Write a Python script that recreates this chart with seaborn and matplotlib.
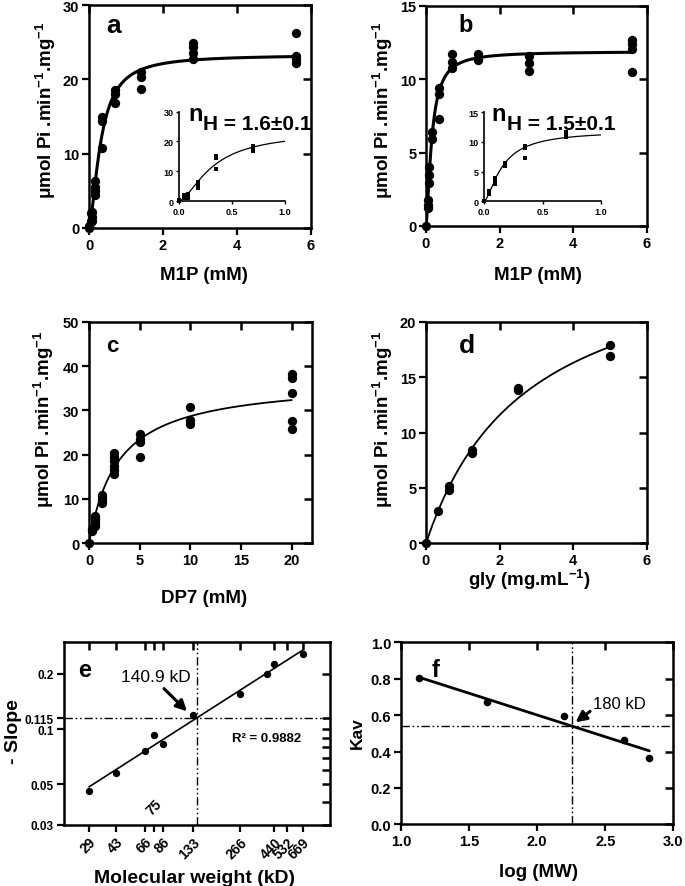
import numpy as np
import pandas as pd
import matplotlib
matplotlib.use("Agg")
import matplotlib.pyplot as plt
from matplotlib.ticker import NullLocator, FixedLocator
import seaborn as sns

# ---------------- data ----------------
# panel a : M1P (mM) vs activity
a_conc = [0, 0, 0.044, 0.044, 0.088, 0.088, 0.088, 0.175, 0.175, 0.175, 0.175,
          0.35, 0.35, 0.35, 0.7, 0.7, 0.7, 1.4, 1.4, 1.4,
          2.8, 2.8, 2.8, 2.8, 5.6, 5.6, 5.6, 5.6]
a_rate = [0, 0.3, 1.0, 2.0, 1.0, 1.5, 2.2, 4.5, 5.0, 5.5, 6.3,
          10.8, 14.4, 15.0, 16.8, 18.0, 18.6, 18.7, 20.3, 21.0,
          22.8, 23.6, 24.3, 24.9, 22.2, 22.7, 23.2, 26.2]
a_vmax, a_k, a_nh = 23.3, 0.32, 1.6

# panel b
b_conc = [0, 0.044, 0.044, 0.044, 0.088, 0.088, 0.088, 0.175, 0.175,
          0.35, 0.35, 0.35, 0.7, 0.7, 0.7, 1.4, 1.4,
          2.8, 2.8, 2.8, 5.6, 5.6, 5.6, 5.6]
b_rate = [0, 1.2, 1.4, 1.8, 2.9, 3.5, 4.0, 5.9, 6.4,
          7.3, 9.0, 9.4, 10.8, 11.2, 11.7, 11.3, 11.7,
          10.6, 11.1, 11.6, 10.5, 12.1, 12.4, 12.7]
b_vmax, b_k, b_nh = 11.9, 0.158, 1.5

# panel c : DP7 (mM)
c_conc = [0, 0.3125, 0.3125, 0.625, 0.625, 0.625, 0.625, 0.625,
          1.25, 1.25, 1.25, 1.25, 2.5, 2.5, 2.5, 2.5, 2.5, 2.5,
          5, 5, 5, 5, 10, 10, 10, 20, 20, 20, 20, 20]
c_rate = [0, 2.8, 3.3, 3.8, 4.5, 5.3, 5.8, 6.2,
          9.0, 9.8, 10.4, 11.0, 15.7, 16.5, 17.5, 18.5, 19.4, 20.3,
          19.4, 22.8, 23.6, 24.6, 26.9, 27.8, 30.7, 25.8, 27.6, 34.0, 37.3, 38.3]
c_vmax, c_k = 37.0, 2.9

# panel d : glycogen (mg/mL)
d_conc = [0, 0.3125, 0.625, 0.625, 1.25, 1.25, 2.5, 2.5, 5, 5]
d_rate = [0, 2.95, 4.85, 5.2, 8.15, 8.4, 13.8, 14.0, 16.9, 17.9]
d_vmax, d_k = 27.5, 2.75

# panel e : molecular weight standards
e_mw = [29, 43, 66, 75, 86, 133, 266, 397, 440, 669]
e_slope = [0.046, 0.058, 0.076, 0.093, 0.083, 0.119, 0.156, 0.200, 0.226, 0.256]
e_tick_vals = [29, 43, 66, 75, 86, 133, 266, 440, 532, 669]
e_tick_labels = ["29", "43", "66", "", "86", "133", "266", "440", "532", "669"]
e_ytick_vals = [0.03, 0.05, 0.1, 0.115, 0.2]
e_ytick_labels = ["0.03", "0.05", "0.1", "0.115", "0.2"]
e_right_ticks = [0.03, 0.04, 0.05, 0.06, 0.07, 0.08, 0.09, 0.1, 0.115, 0.2]
e_mw_found, e_slope_found = 140.9, 0.115

# panel f : Kav vs log(MW)
f_logmw = [1.135, 1.634, 2.197, 2.640, 2.824]
f_kav = [0.802, 0.670, 0.597, 0.465, 0.366]
f_logmw_found, f_kav_found = 2.255, 0.542

# ---------------- style ----------------
sns.set_style("ticks")
plt.rcParams.update({
    "axes.edgecolor": "black", "text.color": "black",
    "xtick.color": "black", "ytick.color": "black",
    "axes.labelcolor": "black", "font.weight": "bold",
    "mathtext.default": "regular",
})
plt.rcParams["font.family"] = ["Liberation Sans", "DejaVu Sans"]

W, H = 685, 887
fig = plt.figure(figsize=(W / 100, H / 100), dpi=100)
IN_LEN = 6.0


def rect(l, t, r, b):
    return [l / W, 1 - b / H, (r - l) / W, (b - t) / H]


def ftext(px, py, s, **kw):
    return fig.text(px / W, 1 - py / H, s, **kw)


def mirror_ticks(ax, top_vals, right_vals):
    """Inward ticks on top/right spines drawn as minor ticks; majors stay outward."""
    ax.xaxis.remove_overlapping_locs = False
    ax.yaxis.remove_overlapping_locs = False
    ax.xaxis.set_minor_locator(FixedLocator(top_vals))
    ax.yaxis.set_minor_locator(FixedLocator(right_vals))
    ax.tick_params(axis="both", which="major", direction="out", length=5, width=1.6,
                   top=False, right=False, bottom=True, left=True)
    ax.tick_params(axis="x", which="minor", direction="in", length=IN_LEN, width=1.8,
                   bottom=False, top=True, labelbottom=False, labeltop=False)
    ax.tick_params(axis="y", which="minor", direction="in", length=IN_LEN, width=1.8,
                   left=False, right=True, labelleft=False, labelright=False)


def style_main(ax, xticks, yticks, xlim, ylim, lsize=10.5):
    ax.set_xlim(*xlim)
    ax.set_ylim(*ylim)
    ax.set_xticks(xticks)
    ax.set_yticks(yticks)
    ax.tick_params(direction="out", length=5, width=1.6, labelsize=lsize, pad=2)
    for s in ax.spines.values():
        s.set_visible(True)
        s.set_linewidth(1.8)
        s.set_color("black")
    mirror_ticks(ax, xticks, yticks)


def hill(x, vmax, k, n):
    x = np.asarray(x)
    return vmax * x ** n / (k ** n + x ** n)


def style_inset(ax, xlim, ylim, yticks):
    ax.set_facecolor("none")
    ax.set_xlim(*xlim)
    ax.set_ylim(*ylim)
    ax.set_xticks([0.0, 0.5, 1.0])
    ax.set_yticks(yticks)
    ax.tick_params(direction="out", length=2.5, width=1.0, labelsize=6.5, pad=1.5)
    sns.despine(ax=ax)
    for s in ("left", "bottom"):
        ax.spines[s].set_linewidth(1.2)


ylab = "\u03bcmol Pi .min$^{-1}$.mg$^{-1}$"

# ---------------- panel a ----------------
ax = fig.add_axes(rect(89, 6, 311, 229))
xs = np.linspace(0, 5.6, 400)
sns.lineplot(x=xs, y=hill(xs, a_vmax, a_k, a_nh), ax=ax, color="black", lw=2.2,
             estimator=None, sort=False)
sns.scatterplot(x=a_conc, y=a_rate, ax=ax, color="black", s=45, linewidth=0,
                clip_on=False, zorder=5)
style_main(ax, [0, 2, 4, 6], [0, 10, 20, 30], (0, 6), (0, 30))
ins = fig.add_axes(rect(179, 112.7, 285, 202))
xi = np.linspace(0, 1.0, 200)
sns.lineplot(x=xi, y=hill(xi, a_vmax, a_k, a_nh), ax=ins, color="black", lw=0.9,
             estimator=None, sort=False)
sel = [i for i, v in enumerate(a_conc) if v <= 1.0]
sns.scatterplot(x=[a_conc[i] for i in sel], y=[a_rate[i] for i in sel], ax=ins,
                color="black", s=7, marker="s", linewidth=0, clip_on=False, zorder=5)
style_inset(ins, (0, 1.0), (0, 30), [0, 10, 20, 30])
ftext(106, 32.7, "a", fontsize=19, va="baseline")
ftext(188, 120.7, "n", fontsize=17, va="baseline")
ftext(203.3, 129.5, "H = 1.6\u00b10.1", fontsize=15, va="baseline")
ftext(204, 280, "M1P (mM)", fontsize=13.5, ha="center", va="baseline")
ftext(46, 110, ylab, fontsize=13.5, ha="center", va="center", rotation=90)

# ---------------- panel b ----------------
ax = fig.add_axes(rect(426, 7, 647, 227))
sns.lineplot(x=xs, y=hill(xs, b_vmax, b_k, b_nh), ax=ax, color="black", lw=2.2,
             estimator=None, sort=False)
sns.scatterplot(x=b_conc, y=b_rate, ax=ax, color="black", s=45, linewidth=0,
                clip_on=False, zorder=5)
style_main(ax, [0, 2, 4, 6], [0, 5, 10, 15], (0, 6), (0, 15))
ins = fig.add_axes(rect(484.3, 113.3, 601, 202.3))
sns.lineplot(x=xi, y=hill(xi, b_vmax, b_k, b_nh), ax=ins, color="black", lw=0.9,
             estimator=None, sort=False)
sel = [i for i, v in enumerate(b_conc) if v <= 1.0]
sns.scatterplot(x=[b_conc[i] for i in sel], y=[b_rate[i] for i in sel], ax=ins,
                color="black", s=7, marker="s", linewidth=0, clip_on=False, zorder=5)
style_inset(ins, (0, 1.0), (0, 15), [0, 5, 10, 15])
ftext(458.3, 31.7, "b", fontsize=17, va="baseline")
ftext(491.7, 120.7, "n", fontsize=17, va="baseline")
ftext(506.7, 129.5, "H = 1.5\u00b10.1", fontsize=15, va="baseline")
ftext(538.3, 280, "M1P (mM)", fontsize=13.5, ha="center", va="baseline")
ftext(383, 110, ylab, fontsize=13.5, ha="center", va="center", rotation=90)

# ---------------- panel c ----------------
ax = fig.add_axes(rect(89, 322.7, 312, 544.3))
xc = np.linspace(0, 20, 400)
sns.lineplot(x=xc, y=hill(xc, c_vmax, c_k, 1.0), ax=ax, color="black", lw=1.3,
             estimator=None, sort=False)
sns.scatterplot(x=c_conc, y=c_rate, ax=ax, color="black", s=45, linewidth=0,
                clip_on=False, zorder=5)
style_main(ax, [0, 5, 10, 15, 20], [0, 10, 20, 30, 40, 50], (0, 22), (0, 50))
ftext(106, 351.7, "c", fontsize=16, va="baseline")
ftext(204, 602.7, "DP7 (mM)", fontsize=13.5, ha="center", va="baseline")
ftext(44, 419, ylab, fontsize=13.5, ha="center", va="center", rotation=90)

# ---------------- panel d ----------------
ax = fig.add_axes(rect(426, 322.7, 647, 544.3))
xd = np.linspace(0, 5, 400)
sns.lineplot(x=xd, y=hill(xd, d_vmax, d_k, 1.0), ax=ax, color="black", lw=1.3,
             estimator=None, sort=False)
sns.scatterplot(x=d_conc, y=d_rate, ax=ax, color="black", s=45, linewidth=0,
                clip_on=False, zorder=5)
style_main(ax, [0, 2, 4, 6], [0, 5, 10, 15, 20], (0, 6), (0, 20))
ftext(459.3, 353.3, "d", fontsize=19, va="baseline")
ftext(529, 586, "gly (mg.mL$^{-1}$)", fontsize=13.5, ha="center", va="baseline")
ftext(383, 419, ylab, fontsize=13.5, ha="center", va="center", rotation=90)

# ---------------- panel e ----------------
ax = fig.add_axes(rect(63.7, 642.7, 330, 826))
ax.set_xscale("log")
ax.set_yscale("log")
lx = np.log10(e_mw)
ly = np.log10(e_slope)
slope, icpt = np.polyfit(lx, ly, 1)
fx_line = np.linspace(lx.min(), lx.max(), 50)
dash = (0, (6, 2, 1.2, 2, 1.2, 2))
ax.axvline(e_mw_found, color="black", lw=1.0, ls=dash)
ax.axhline(e_slope_found, color="black", lw=1.0, ls=dash)
sns.lineplot(x=10 ** fx_line, y=10 ** (icpt + slope * fx_line), ax=ax, color="black",
             lw=1.2, estimator=None, sort=False)
sns.scatterplot(x=e_mw, y=e_slope, ax=ax, color="black", s=28, linewidth=0,
                clip_on=False, zorder=5)
ax.set_xlim(20, 1000)
ax.set_ylim(0.03, 0.3)
ax.set_xticks(e_tick_vals, labels=e_tick_labels)
ax.set_yticks(e_ytick_vals, labels=e_ytick_labels)
ax.tick_params(axis="both", which="major", direction="out", length=5, width=1.6, pad=2)
ax.tick_params(axis="y", labelsize=8.5)
ax.tick_params(axis="x", labelsize=10)
for lab in ax.get_xticklabels():
    lab.set_rotation(45)
    lab.set_ha("right")
    lab.set_va("top")
    lab.set_rotation_mode("anchor")
for s in ax.spines.values():
    s.set_linewidth(1.8)
mirror_ticks(ax, e_tick_vals, e_right_ticks)
ax.text(75, 0.0378, "75", rotation=45, ha="center", va="center", fontsize=10)
ax.annotate("", xy=(126, 0.122), xytext=(84.8, 0.1706),
            arrowprops=dict(arrowstyle="-|>", color="black", lw=2.2, mutation_scale=16))
ftext(78.3, 677.3, "e", fontsize=17, va="baseline")
ftext(121, 681.7, "140.9 kD", fontsize=12.5, fontweight="normal", va="baseline")
ftext(232.3, 742, "R\u00b2 = 0.9882", fontsize=9.5, va="baseline")
ftext(195, 883, "Molecular weight (kD)", fontsize=14, ha="center", va="baseline")
ftext(14, 731.7, "- Slope", fontsize=14, ha="center", va="center", rotation=90)

# ---------------- panel f ----------------
ax = fig.add_axes(rect(401, 643.3, 673.3, 825.3))
fl = np.polyfit(f_logmw, f_kav, 1)
xf = np.linspace(min(f_logmw), max(f_logmw), 50)
ax.axvline(f_logmw_found, color="black", lw=1.0, ls=dash)
ax.axhline(f_kav_found, color="black", lw=1.0, ls=dash)
sns.lineplot(x=xf, y=np.polyval(fl, xf), ax=ax, color="black", lw=2.0,
             estimator=None, sort=False)
sns.scatterplot(x=f_logmw, y=f_kav, ax=ax, color="black", s=30, linewidth=0,
                clip_on=False, zorder=5)
style_main(ax, [1.0, 1.5, 2.0, 2.5, 3.0], [0.0, 0.2, 0.4, 0.6, 0.8, 1.0],
           (1.0, 3.0), (0.0, 1.0))
ax.annotate("", xy=(2.266, 0.551), xytext=(2.405, 0.63),
            arrowprops=dict(arrowstyle="-|>", color="black", lw=2.2, mutation_scale=16))
ftext(431.7, 677.3, "f", fontsize=17, va="baseline")
ftext(593.3, 709.3, "180 kD", fontsize=12, fontweight="normal", va="baseline")
ftext(538.3, 877, "log (MW)", fontsize=13.5, ha="center", va="baseline")
ftext(357.5, 733, "Kav", fontsize=12.5, ha="center", va="center", rotation=90)

fig.savefig("out.png", dpi=100, facecolor="white")
